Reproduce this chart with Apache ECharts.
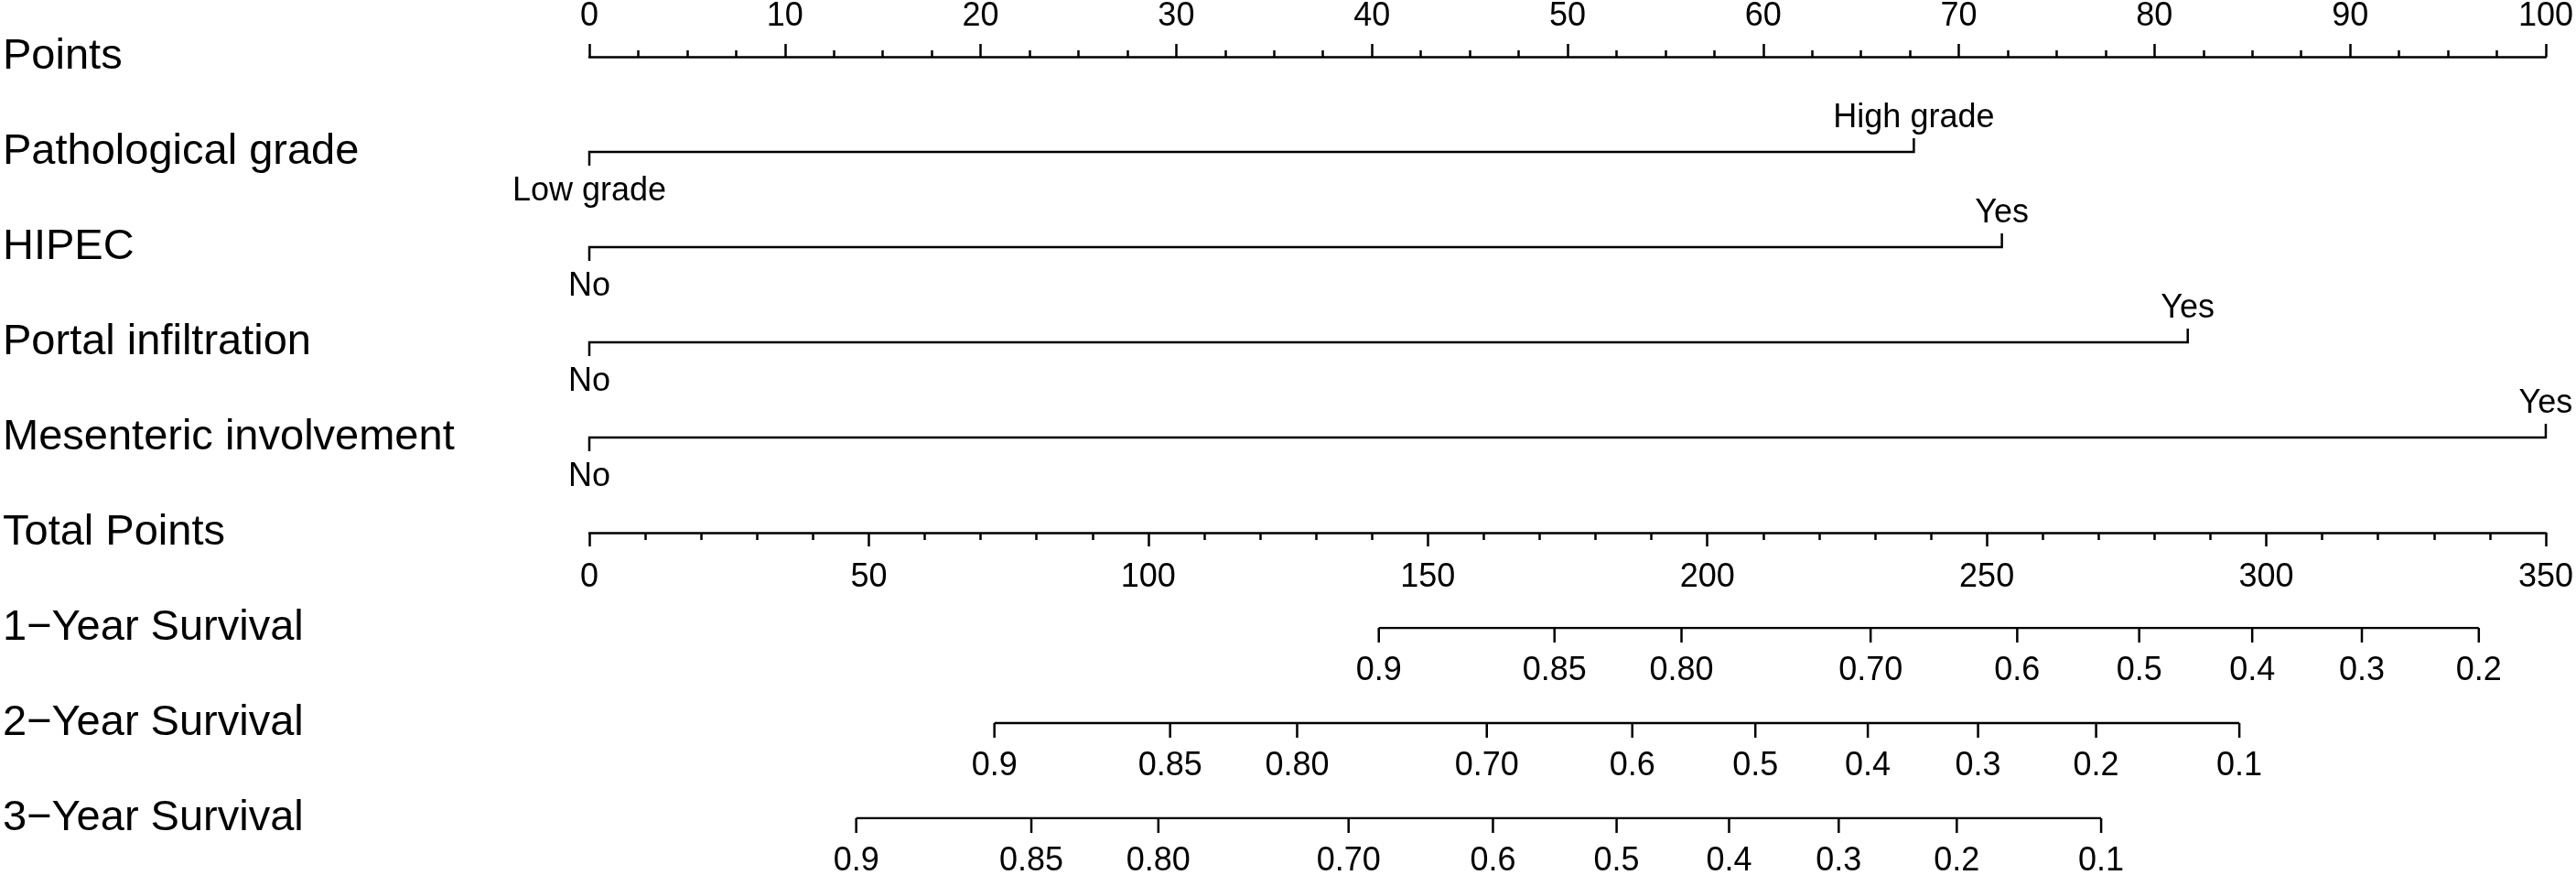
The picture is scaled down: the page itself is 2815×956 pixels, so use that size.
<!DOCTYPE html>
<html>
<head>
<meta charset="utf-8">
<script src="https://cdn.jsdelivr.net/npm/echarts@6/dist/echarts.min.js"></script>
<style>
  html, body { margin: 0; padding: 0; background: #fff; }
  #chart { width: 2815px; height: 956px; }
</style>
</head>
<body>
<div id="chart"></div>
<script>
// row names, top block (points scale) and bottom block (survival)
const topRows = ['Points', 'Pathological grade', 'HIPEC', 'Portal infiltration', 'Mesenteric involvement', 'Total Points'];
const survRows = ['1\u2212Year Survival', '2\u2212Year Survival', '3\u2212Year Survival'];

// predictors: points given to the second level
const levelLow = ['Low grade', 'No', 'No', 'No'];
const levelHigh = ['High grade', 'Yes', 'Yes', 'Yes'];
const levelPoints = [67.7, 72.2, 81.7, 100];

// survival scales, positions in total points
const survLabels1 = ['0.9', '0.85', '0.80', '0.70', '0.6', '0.5', '0.4', '0.3', '0.2'];
const survPoints1 = [141.1, 172.5, 195.2, 229.0, 255.2, 277.0, 297.2, 316.8, 337.7];
const survLabels2 = ['0.9', '0.85', '0.80', '0.70', '0.6', '0.5', '0.4', '0.3', '0.2', '0.1'];
const survPoints2 = [72.4, 103.8, 126.5, 160.4, 186.4, 208.4, 228.5, 248.2, 269.3, 294.9];
const survLabels3 = ['0.9', '0.85', '0.80', '0.70', '0.6', '0.5', '0.4', '0.3', '0.2', '0.1'];
const survPoints3 = [47.7, 79.0, 101.7, 135.7, 161.5, 183.6, 203.7, 223.3, 244.4, 270.2];

const survLabels = [survLabels1, survLabels2, survLabels3];
const survPoints = [survPoints1, survPoints2, survPoints3];

const FONT = '"Liberation Sans", Arial, Helvetica, sans-serif';
const tickFont = '36px ' + FONT;
const LW = 2.5;

const chart = echarts.init(document.getElementById('chart'), null, { renderer: 'canvas' });

function txt(x, y, text) {
  return {
    type: 'text', x: x, y: y,
    style: { text: text, font: tickFont, fill: '#000', align: 'center', verticalAlign: 'middle' }
  };
}

// one predictor row: bracket from 0 to its points
function renderPredictor(params, api) {
  const i = params.dataIndex;
  const row = api.value(1);
  const a = api.coord([0, row]);
  const b = api.coord([api.value(0), row]);
  return {
    type: 'group',
    children: [
      {
        type: 'polyline',
        shape: { points: [[a[0], a[1] + 15], a, b, [b[0], b[1] - 15]] },
        style: { stroke: '#000', lineWidth: LW, fill: 'none' }
      },
      txt(a[0], a[1] + 43, levelLow[i]),
      txt(b[0], b[1] - 37, levelHigh[i])
    ]
  };
}

function makeSurvRender(k) {
  return function (params, api) {
    const p = api.coord([api.value(0), api.value(1)]);
    return {
      type: 'group',
      children: [
        {
          type: 'line',
          shape: { x1: p[0], y1: p[1], x2: p[0], y2: p[1] + 16 },
          style: { stroke: '#000', lineWidth: LW }
        },
        txt(p[0], p[1] + 47, survLabels[k][params.dataIndex])
      ]
    };
  };
}

const series = [
  {
    type: 'custom',
    xAxisIndex: 0, yAxisIndex: 0,
    renderItem: renderPredictor,
    data: levelPoints.map((p, i) => [p, i + 1]),
    silent: true
  }
];

survPoints.forEach((pts, k) => {
  // horizontal line of the scale
  series.push({
    type: 'line',
    xAxisIndex: 2, yAxisIndex: 1,
    data: [[pts[0], k], [pts[pts.length - 1], k]],
    symbol: 'none',
    lineStyle: { color: '#000', width: LW },
    silent: true
  });
  series.push({
    type: 'custom',
    xAxisIndex: 2, yAxisIndex: 1,
    renderItem: makeSurvRender(k),
    data: pts.map(v => [v, k]),
    silent: true
  });
});

const rowLabel = {
  show: true,
  align: 'left',
  margin: 641,
  fontSize: 47,
  fontFamily: FONT,
  color: '#000',
  padding: [6, 0, 0, 0]
};

const option = {
  backgroundColor: '#fff',
  animation: false,
  grid: [
    { left: 643, right: 31, top: 60, bottom: 374 },
    { left: 643, right: 31, top: 686, bottom: 62 }
  ],
  xAxis: [
    {
      // Points
      type: 'value', gridIndex: 0, position: 'top',
      min: 0, max: 100, interval: 10,
      axisLine: { show: true, onZero: false, lineStyle: { color: '#000', width: LW } },
      axisTick: { show: true, length: 14, lineStyle: { color: '#000', width: LW } },
      minorTick: { show: true, splitNumber: 4, length: 7, lineStyle: { color: '#000', width: LW } },
      axisLabel: { fontSize: 36, fontFamily: FONT, color: '#000', margin: 26 },
      splitLine: { show: false }
    },
    {
      // Total Points
      type: 'value', gridIndex: 0, position: 'bottom',
      min: 0, max: 350, interval: 50,
      axisLine: { show: true, onZero: false, lineStyle: { color: '#000', width: LW } },
      axisTick: { show: true, length: 15, lineStyle: { color: '#000', width: LW } },
      minorTick: { show: true, splitNumber: 5, length: 8, lineStyle: { color: '#000', width: LW } },
      axisLabel: { fontSize: 36, fontFamily: FONT, color: '#000', margin: 31 },
      splitLine: { show: false }
    },
    {
      // survival scales share the total points scale
      type: 'value', gridIndex: 1, min: 0, max: 350, show: false
    }
  ],
  yAxis: [
    {
      type: 'category', gridIndex: 0, data: topRows, inverse: true, boundaryGap: false,
      axisLine: { show: false }, axisTick: { show: false }, splitLine: { show: false },
      axisLabel: rowLabel
    },
    {
      type: 'category', gridIndex: 1, data: survRows, inverse: true, boundaryGap: false,
      axisLine: { show: false }, axisTick: { show: false }, splitLine: { show: false },
      axisLabel: rowLabel
    }
  ],
  series: series
};

chart.setOption(option);
</script>
</body>
</html>
